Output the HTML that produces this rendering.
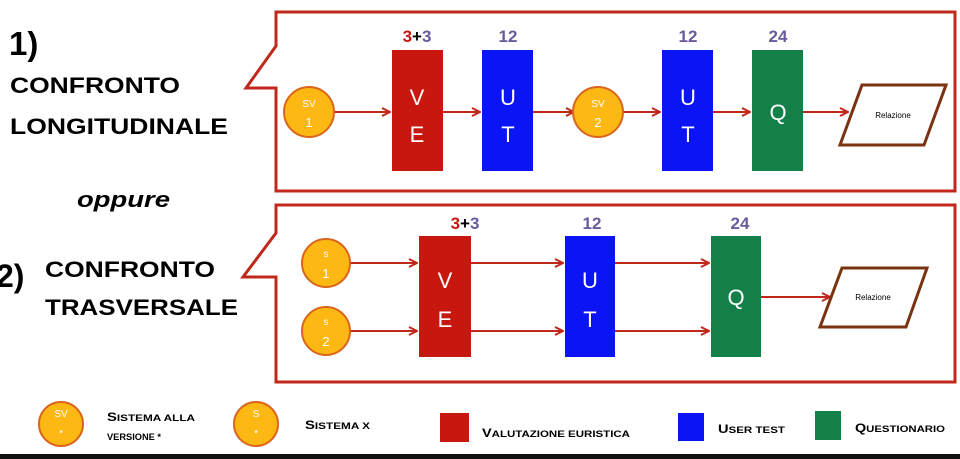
<!DOCTYPE html>
<html><head><meta charset="utf-8"><style>
body{margin:0;background:#fff;width:960px;height:459px;overflow:hidden}
svg{display:block;font-family:"Liberation Sans",sans-serif}
.b{font-weight:bold}
</style></head><body>
<svg width="960" height="459" viewBox="0 0 960 459">
<defs><marker id="ar" markerWidth="10" markerHeight="10" refX="9" refY="5" orient="auto" markerUnits="userSpaceOnUse"><path d="M1,1 L9,5 L1,9" fill="none" stroke="#c0281b" stroke-width="2"/></marker></defs>
<rect width="960" height="459" fill="#fff"/>
<g>
<text x="9" y="55" class="b" font-size="33">1)</text>
<text x="10" y="93" class="b" font-size="22" textLength="170" lengthAdjust="spacingAndGlyphs">CONFRONTO</text>
<text x="10" y="134" class="b" font-size="22" textLength="218" lengthAdjust="spacingAndGlyphs">LONGITUDINALE</text>
<text x="77" y="207" class="b" font-size="22" font-style="italic" textLength="93" lengthAdjust="spacingAndGlyphs">oppure</text>
<text x="-4" y="287" class="b" font-size="32">2)</text>
<text x="45" y="277" class="b" font-size="22" textLength="170" lengthAdjust="spacingAndGlyphs">CONFRONTO</text>
<text x="45" y="315" class="b" font-size="22" textLength="193" lengthAdjust="spacingAndGlyphs">TRASVERSALE</text>
</g>
<path d="M276,12 H955 V191 H276 V88 H246 L276,46 Z" fill="none" stroke="#c0281b" stroke-width="3"/>
<path d="M276,205 H955 V382 H276 V277 H243 L276,233 Z" fill="none" stroke="#c0281b" stroke-width="3"/>
<g stroke="#c0281b" stroke-width="2" marker-end="url(#ar)">
<line x1="333" y1="112" x2="390" y2="112"/><line x1="443" y1="112" x2="480" y2="112"/><line x1="533" y1="112" x2="574" y2="112"/><line x1="622" y1="112" x2="660" y2="112"/><line x1="713" y1="112" x2="750" y2="112"/><line x1="803" y1="112" x2="848" y2="112"/>
</g>
<g stroke="#c0281b" stroke-width="2" marker-end="url(#ar)">
<line x1="350" y1="263" x2="417" y2="263"/><line x1="350" y1="331" x2="417" y2="331"/>
<line x1="471" y1="263" x2="563" y2="263"/><line x1="471" y1="331" x2="563" y2="331"/>
<line x1="615" y1="263" x2="709" y2="263"/><line x1="615" y1="331" x2="709" y2="331"/>
<line x1="761" y1="297" x2="830" y2="297"/>
</g>
<g>
<circle cx="309" cy="112" r="25" fill="#fdb813" stroke="#d9661c" stroke-width="2"/>
<text x="309" y="107" fill="#fff" font-size="10" text-anchor="middle">SV</text><text x="309" y="127" fill="#fff" font-size="13" text-anchor="middle">1</text>
<rect x="392" y="50" width="51" height="121" fill="#c8170e"/>
<text x="417" y="105" fill="#fff" font-size="22" text-anchor="middle">V</text><text x="417" y="142" fill="#fff" font-size="22" text-anchor="middle">E</text>
<rect x="482" y="50" width="51" height="121" fill="#0a14f5"/>
<text x="508" y="105" fill="#fff" font-size="22" text-anchor="middle">U</text><text x="508" y="142" fill="#fff" font-size="22" text-anchor="middle">T</text>
<circle cx="598" cy="112" r="25" fill="#fdb813" stroke="#d9661c" stroke-width="2"/>
<text x="598" y="107" fill="#fff" font-size="10" text-anchor="middle">SV</text><text x="598" y="127" fill="#fff" font-size="13" text-anchor="middle">2</text>
<rect x="662" y="50" width="51" height="121" fill="#0a14f5"/>
<text x="688" y="105" fill="#fff" font-size="22" text-anchor="middle">U</text><text x="688" y="142" fill="#fff" font-size="22" text-anchor="middle">T</text>
<rect x="752" y="50" width="51" height="121" fill="#128048"/>
<text x="778" y="120" fill="#fff" font-size="22" text-anchor="middle">Q</text>
<polygon points="862,85 946,85 924,145 840,145" fill="#fff" stroke="#7a3310" stroke-width="3"/>
<text x="893" y="118" font-size="8" text-anchor="middle">Relazione</text>
<g class="b" font-size="17" fill="#6a5a9c" text-anchor="middle">
<text x="417" y="42"><tspan fill="#c8170e">3</tspan><tspan fill="#000">+</tspan>3</text>
<text x="508" y="42">12</text><text x="688" y="42">12</text><text x="778" y="42">24</text></g>
</g>
<g>
<circle cx="326" cy="263" r="24" fill="#fdb813" stroke="#d9661c" stroke-width="2"/>
<text x="326" y="257" fill="#fff" font-size="10" text-anchor="middle">s</text><text x="326" y="278" fill="#fff" font-size="13" text-anchor="middle">1</text>
<circle cx="326" cy="331" r="24" fill="#fdb813" stroke="#d9661c" stroke-width="2"/>
<text x="326" y="325" fill="#fff" font-size="10" text-anchor="middle">s</text><text x="326" y="346" fill="#fff" font-size="13" text-anchor="middle">2</text>
<rect x="419" y="236" width="52" height="121" fill="#c8170e"/>
<text x="445" y="288" fill="#fff" font-size="22" text-anchor="middle">V</text><text x="445" y="327" fill="#fff" font-size="22" text-anchor="middle">E</text>
<rect x="565" y="236" width="50" height="121" fill="#0a14f5"/>
<text x="590" y="288" fill="#fff" font-size="22" text-anchor="middle">U</text><text x="590" y="327" fill="#fff" font-size="22" text-anchor="middle">T</text>
<rect x="711" y="236" width="50" height="121" fill="#128048"/>
<text x="736" y="305" fill="#fff" font-size="22" text-anchor="middle">Q</text>
<polygon points="842,268 927,268 906,327 820,327" fill="#fff" stroke="#7a3310" stroke-width="3"/>
<text x="873" y="300" font-size="8" text-anchor="middle">Relazione</text>
<g class="b" font-size="17" fill="#6a5a9c" text-anchor="middle">
<text x="465" y="229"><tspan fill="#c8170e">3</tspan><tspan fill="#000">+</tspan>3</text>
<text x="592" y="229">12</text><text x="740" y="229">24</text></g>
</g>
<g class="b" font-size="12">
<circle cx="61" cy="424" r="22" fill="#fdb813" stroke="#d9661c" stroke-width="2"/>
<text x="61" y="417" fill="#fff" font-size="10" font-weight="normal" text-anchor="middle">SV</text><text x="61" y="436" fill="#fff" font-size="8" text-anchor="middle">*</text>
<text x="107" y="421" textLength="88" lengthAdjust="spacingAndGlyphs">S<tspan font-size="9.5">ISTEMA ALLA</tspan></text><text x="107" y="440" font-size="9.5" textLength="54" lengthAdjust="spacingAndGlyphs">VERSIONE *</text>
<circle cx="256" cy="424" r="22" fill="#fdb813" stroke="#d9661c" stroke-width="2"/>
<text x="256" y="417" fill="#fff" font-size="10" font-weight="normal" text-anchor="middle">S</text><text x="256" y="436" fill="#fff" font-size="8" text-anchor="middle">*</text>
<text x="305" y="429" textLength="65" lengthAdjust="spacingAndGlyphs">S<tspan font-size="9.5">ISTEMA X</tspan></text>
<rect x="440" y="413" width="29" height="29" fill="#c8170e"/>
<text x="482" y="437" textLength="148" lengthAdjust="spacingAndGlyphs">V<tspan font-size="9.5">ALUTAZIONE EURISTICA</tspan></text>
<rect x="678" y="413" width="26" height="28" fill="#0a14f5"/>
<text x="718" y="433" textLength="67" lengthAdjust="spacingAndGlyphs">U<tspan font-size="9.5">SER TEST</tspan></text>
<rect x="815" y="411" width="26" height="29" fill="#128048"/>
<text x="855" y="432" textLength="90" lengthAdjust="spacingAndGlyphs">Q<tspan font-size="9.5">UESTIONARIO</tspan></text>
</g>
<rect x="0" y="454" width="960" height="5" fill="#111"/>
</svg>
</body></html>
